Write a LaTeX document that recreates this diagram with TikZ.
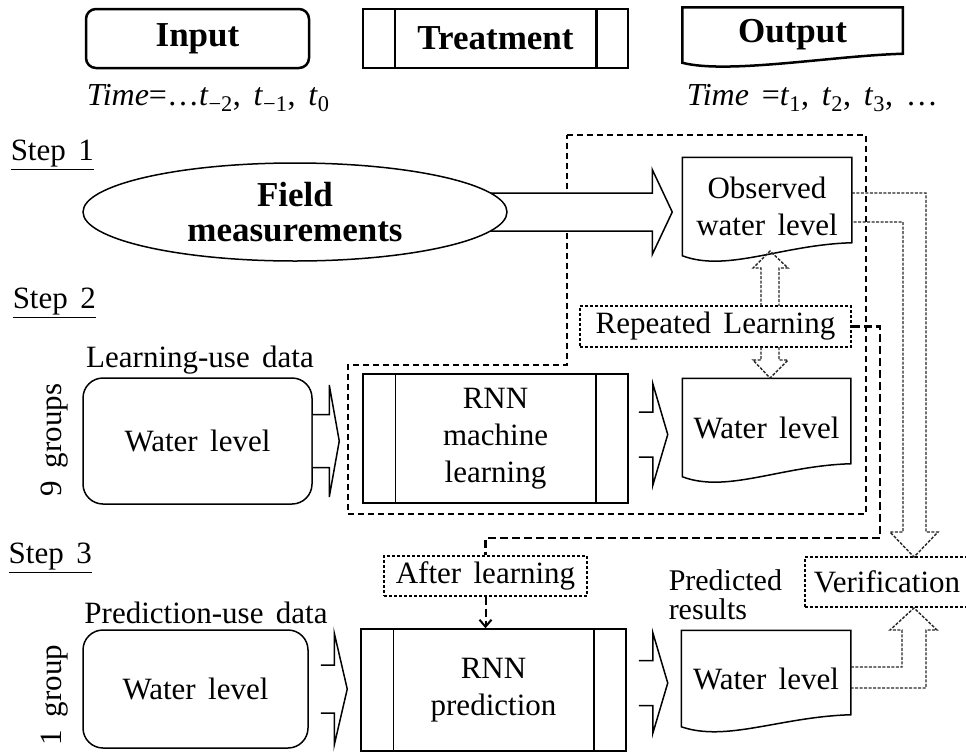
\documentclass[tikz,border=0pt]{standalone}
\usepackage{fontspec}
\setmainfont{Liberation Serif}[WordSpace=1.6]
\usetikzlibrary{arrows.meta, shapes.geometric, calc, backgrounds}

\newcommand{\bodyfont}{\fontsize{31}{37}\selectfont}
\newcommand{\hdrfont}{\fontsize{35}{35}\selectfont\bfseries}
\newcommand{\timefont}{\fontsize{32}{38}\selectfont}

% document outline (wavy bottom): node, raise of right end, line width
\newcommand{\docbox}[3]{%
  \draw[line width=#3] (#1.south west) .. controls +(45,#2*1.3) and +(-70,2) .. ($(#1.south east)+(0,-#2)$)
    -- (#1.north east) -- (#1.north west) -- cycle;}
% side bars of a process box
\newcommand{\procbars}[3]{%
  \draw[line width=#3] ($(#1.north west)+(#2,0)$) -- ($(#1.south west)+(#2,0)$);
  \draw[line width=#3] ($(#1.north east)+(-#2,0)$) -- ($(#1.south east)+(-#2,0)$);}
% hollow block arrow: start, tip, shaft half, head half, head length
\newcommand{\blockarrow}[5]{%
  \draw[line width=1.5pt, fill=white, line join=miter]
    ($(#1)+(0,-#3)$) -- ($(#2)+(-#5,-#3)$) -- ($(#2)+(-#5,-#4)$) -- (#2)
    -- ($(#2)+(-#5,#4)$) -- ($(#2)+(-#5,#3)$) -- ($(#1)+(0,#3)$);}

\begin{document}
\begin{tikzpicture}[x=1pt, y=-1pt, font=\bodyfont, inner sep=0pt, line width=1.5pt,
  hdrbox/.style={draw, line width=2.5pt, font=\hdrfont, minimum height=59pt},
  procbox/.style={draw, align=center},
  databox/.style={draw, rounded corners=20pt},
  docnode/.style={align=center},
  tagbox/.style={draw, line width=1.2pt, dash pattern=on 3pt off 2pt},
  groupline/.style={line width=1.5pt, dash pattern=on 6pt off 4pt},
  linkline/.style={line width=2.5pt, dash pattern=on 8pt off 4pt},
  hollowline/.style={line width=1.4pt, dash pattern=on 3pt off 1.5pt, black!85}]
\useasboundingbox (0,0) rectangle (966,753);

% legend
\node[hdrbox, rounded corners=10pt, minimum width=223pt] (hin) at (197.5,38.5) {Input};
\node[hdrbox, minimum width=265pt] (htr) at (495.5,38.5) {Treatment};
\procbars{htr}{33}{2.5pt}
\node[docnode, font=\hdrfont, minimum width=219pt, minimum height=54pt] (hout) at (792.5,35) {Output};
\docbox{hout}{9}{2.5pt}
\node[anchor=west, font=\timefont] (tin) at (86,98)
  {\textit{Time}=\ldots\textit{t}\textsubscript{−2}, \textit{t}\textsubscript{−1}, \textit{t}\textsubscript{0}};
\node[anchor=west, font=\timefont] (tout) at (686,98)
  {\textit{Time} =\textit{t}\textsubscript{1}, \textit{t}\textsubscript{2}, \textit{t}\textsubscript{3}, \ldots};

% step 1
\node[anchor=west] (s1) at (10,155) {\underline{Step 1}};
\node[draw, ellipse, fill=white, minimum width=424pt, minimum height=98pt, align=center,
  font=\hdrfont] (field) at (295,212) {Field\\measurements};
\node[docnode, minimum width=168pt, minimum height=97pt] (obs) at (767,206.5) {Observed\\water level};
\docbox{obs}{13}{1.5pt}

% step 2
\node[anchor=west] (s2) at (12,303) {\underline{Step 2}};
\node (lud) at (200,360) {Learning-use data};
\node[databox, minimum width=229pt, minimum height=126pt] (wl2in) at (197.5,441) {Water level};
\node[rotate=90] (g9) at (55,440) {9 groups};
\node[procbox, minimum width=265pt, minimum height=129pt] (rnnl) at (495.5,438.5) {RNN\\machine\\learning};
\procbars{rnnl}{33}{1.5pt}
\node[docnode, minimum width=167pt, minimum height=97pt] (wl2out) at (766.5,427.5) {Water level};
\docbox{wl2out}{13}{1.5pt}
\node[tagbox, minimum width=271pt, minimum height=41pt] (rl) at (715.5,326.5) {Repeated Learning};

% step 3
\node[anchor=west] (s3) at (8,558) {\underline{Step 3}};
\node (pud) at (206,613) {Prediction-use data};
\node[databox, minimum width=225pt, minimum height=118pt] (wl3in) at (195.5,689) {Water level};
\node[rotate=90] (g1) at (55,695) {1 group};
\node[tagbox, minimum width=203pt, minimum height=40pt] (al) at (485.5,576) {After learning};
\node[procbox, minimum width=265pt, minimum height=122pt] (rnnp) at (493.5,690) {RNN\\prediction};
\procbars{rnnp}{33}{1.5pt}
\node[anchor=west, align=left, font=\fontsize{30}{29}\selectfont] (predlbl) at (668,595) {Predicted\\results};
\node[docnode, minimum width=168pt, minimum height=95pt] (pred) at (766,678.5) {Water level};
\docbox{pred}{12}{1.5pt}
\node[tagbox, minimum width=164pt, minimum height=50pt] (ver) at (887,582) {Verification};

\begin{pgfonlayer}{background}
  \draw[groupline] (567,135) -- (866,135) -- (866,514) -- (348,514) -- (348,365) -- (567,365) -- cycle;
  \coordinate (a0s) at ($(field.center)+(150,0)$);
  \coordinate (a0e) at ($(obs.west |- field.center)+(-10,0)$);
  \blockarrow{a0s}{a0e}{19}{42.5}{20}
\end{pgfonlayer}

% block arrows
\coordinate (a1s) at (wl2in.east);
\coordinate (a1e) at ($(wl2in.east -| rnnl.west)+(-23,0)$);
\blockarrow{a1s}{a1e}{26.5}{56}{10}
\coordinate (a2s) at ($(rnnl.east)+(10,-4)$);
\coordinate (a2e) at ($(rnnl.east)+(39,-4)$);
\blockarrow{a2s}{a2e}{22.5}{51}{15}
\coordinate (a3s) at ($(wl3in.east)+(12,0)$);
\coordinate (a3e) at ($(wl3in.east -| rnnp.west)+(-13,0)$);
\blockarrow{a3s}{a3e}{24}{56}{13}
\coordinate (a4s) at ($(rnnp.east)+(12,-7)$);
\coordinate (a4e) at ($(rnnp.east)+(41,-7)$);
\blockarrow{a4s}{a4e}{22.5}{50.5}{15}

% repeated learning
\coordinate (rlup) at (770,251);
\coordinate (rldown) at (770,378);
\draw[hollowline] (761,306) -- (761,268) -- (753,268) -- (rlup) -- (788,268) -- (779,268) -- (779,306);
\draw[hollowline] (761,347) -- (761,360) -- (753,360) -- (rldown) -- (788,360) -- (779,360) -- (779,347);

\coordinate (lk) at (880,538);
\draw[linkline] (rl.east) -| (lk) -| (al.north);
\draw[linkline, line width=2pt, -{Straight Barb[length=7pt, width=12pt]}] (al.south) -- (al.south |- rnnp.north);

% verification
\coordinate (vtop) at (914,557);
\coordinate (vbot) at (914,608);
\draw[hollowline] ($(obs.east)+(0,-13.5)$) -| (926,532) -- (938,532) -- (vtop) -- (890,532) -- (903,532)
  |- ($(obs.east)+(0,15.5)$);
\draw[hollowline] ($(pred.east)+(0,-11.5)$) -| (902,630) -- (890,630) -- (vbot) -- (937,630) -- (926,630)
  |- ($(pred.east)+(0,9.5)$);
\end{tikzpicture}
\end{document}
